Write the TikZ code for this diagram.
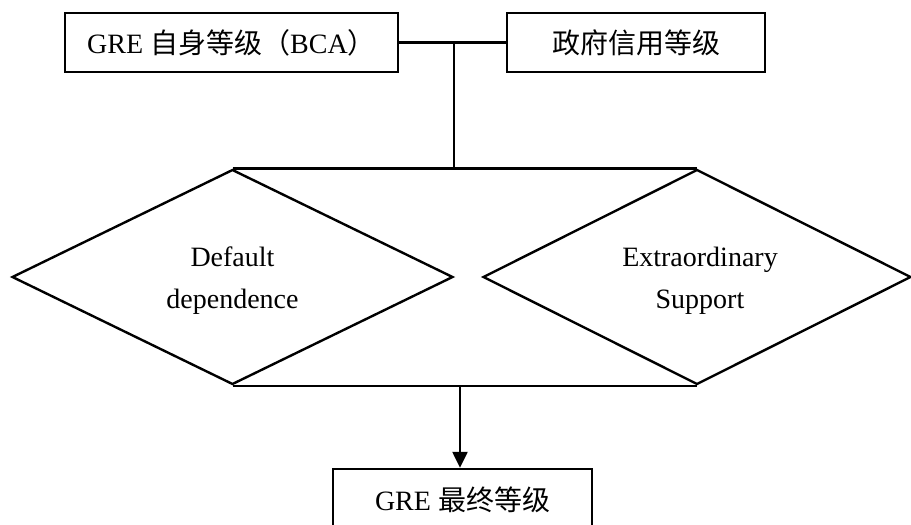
\documentclass[tikz,border=0pt]{standalone}
\usepackage{fontspec}
\setmainfont{Liberation Serif}
\newfontfamily\cjk{Noto Sans CJK SC}
\usetikzlibrary{shapes.geometric,arrows.meta}
\tikzset{
  every node/.style={font=\fontsize{28}{42}\selectfont},
  thickline/.style={line width=2.4pt},
  box/.style={draw, thickline, rectangle, inner sep=0pt, minimum height=59pt},
  dia/.style={draw, thickline, diamond, inner sep=0pt, align=center, minimum height=215pt},
  label/.style={align=center, inner sep=0pt},
}
\begin{document}
\begin{tikzpicture}[x=1pt,y=-1pt]
\useasboundingbox (0,0) rectangle (911,525);
\clip (0,0) rectangle (911,525);

% rating inputs
\node[box, minimum width=333pt] (bca) at (231.5,42.5) {GRE {\cjk 自身等级（}BCA{\cjk ）}};
\node[box, minimum width=258pt] (gov) at (636,42.5) {\cjk 政府信用等级};

% the two assessment factors
\node[dia, minimum width=441pt] (dd) at (232.5,277) {};
\node[dia, minimum width=428pt] (es) at (697,277) {};
\node[label] (ddt) at (232.5,281) {Default\\dependence};
\node[label] (est) at (700,281) {Extraordinary\\Support};

% result
\node[box, minimum width=259pt, minimum height=62pt] (fin) at (462.5,500) {GRE {\cjk 最终等级}};

% joint frame of the two factors
\draw[thickline] (dd.north) -- (es.north);
\draw[thickline] (dd.south) -- (es.south);

% inputs merged into the frame
\draw[thickline] (bca.east) -- (gov.west);
\coordinate (j) at (454,42.5);
\draw[thickline] (j) -- (j |- dd.north);

% frame to result
\coordinate (k) at (460,277);
\draw[thickline, -{Triangle[length=16pt,width=15pt]}] (k |- dd.south) -- (k |- fin.north);
\end{tikzpicture}
\end{document}
